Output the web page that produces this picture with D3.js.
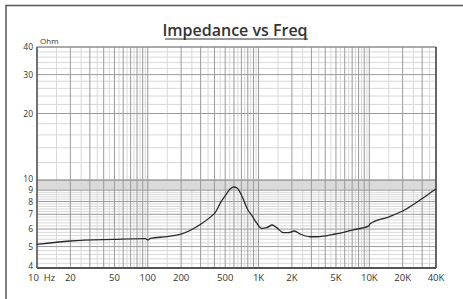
<!DOCTYPE html>
<html>
<head>
<meta charset="utf-8">
<script src="https://cdn.jsdelivr.net/npm/d3@7"></script>
<style>
  body { margin: 0; background: #fff; }
  text { font-family: "Open Sans", sans-serif; fill: #333; }
</style>
</head>
<body>
<div id="chart"></div>
<script>
var freq = [10, 20, 50, 95, 100, 106, 150, 200, 303, 374, 401, 461, 494, 560, 597, 640, 700, 805, 863, 960,
            1065, 1183, 1332, 1458, 1676, 1861, 2110, 2375, 2929, 3367, 4940, 7000, 9930, 10100, 15100, 21400, 30300, 38700, 40000]
var ohm  = [5.12, 5.30, 5.39, 5.43, 5.36, 5.44, 5.55, 5.70, 6.33, 6.85, 7.07, 8.0, 8.41, 9.15, 9.3, 9.2, 8.56, 7.3, 6.95, 6.4,
            6.05, 6.09, 6.26, 6.09, 5.78, 5.78, 5.88, 5.70, 5.54, 5.54, 5.70, 5.94, 6.2, 6.33, 6.82, 7.38, 8.27, 9.02, 9.12]

var xTickVals = [10, 20, 50, 100, 200, 500, 1000, 2000, 5000, 10000, 20000, 40000]
var xTickText = ["10  Hz", "20", "50", "100", "200", "500", "1K", "2K", "5K", "10K", "20K", "40K"]
var yTickVals = [4, 5, 6, 7, 8, 9, 10, 20, 30, 40]

var W = 463, H = 299
var margin = {top: 47, right: 27, bottom: 31, left: 37}
var width = W - margin.left - margin.right,
    height = H - margin.top - margin.bottom

var svg = d3.select("#chart").append("svg")
    .attr("width", W).attr("height", H)

// outer frame
svg.append("rect")
    .attr("x", 6).attr("y", 5.5).attr("width", 480).attr("height", 320)
    .attr("fill", "none").attr("stroke", "#555").attr("stroke-width", 1.5)

svg.append("text")
    .attr("x", 235).attr("y", 36)
    .attr("text-anchor", "middle")
    .style("font-size", "16px").style("font-weight", 600)
    .text("Impedance vs Freq")
svg.append("line")
    .attr("x1", 165).attr("x2", 308).attr("y1", 39).attr("y2", 39)
    .attr("stroke", "#333").attr("stroke-width", 1.2)

var g = svg.append("g")
    .attr("transform", "translate(" + margin.left + "," + margin.top + ")")

var x = d3.scaleLog().domain([10, 40000]).range([0, width])
var y = d3.scaleLog().domain([4, 40]).range([height, 0])

// band between 9 and 10 ohm
g.append("rect")
    .attr("x", 0).attr("width", width)
    .attr("y", y(10)).attr("height", y(9) - y(10))
    .attr("fill", "#ddd")

// horizontal grid
var hMinor = [], hMajor = []
for (var v = 4; v < 10; v += 0.2) {
  var r = Math.round(v * 10) / 10
  if (Math.abs(r - Math.round(r)) < 0.01) hMajor.push(r); else hMinor.push(r)
}
for (var v = 10; v <= 40; v += 2) {
  if (v % 10 == 0) hMajor.push(v); else hMinor.push(v)
}
// vertical grid
var vMinor = [], vMajor = []
for (var dec = 10; dec <= 10000; dec *= 10) {
  for (var k = 1; k < 10; k++) {
    if (dec * k <= 40000) vMajor.push(dec * k)
    if (dec * (k + 0.5) < 40000) vMinor.push(dec * (k + 0.5))
  }
}

g.selectAll(".hmin").data(hMinor).enter().append("line")
    .attr("x1", 0).attr("x2", width)
    .attr("y1", function(d) { return y(d) }).attr("y2", function(d) { return y(d) })
    .attr("stroke", "#d8d8d8").attr("stroke-width", 1)
g.selectAll(".vmin").data(vMinor).enter().append("line")
    .attr("y1", 0).attr("y2", height)
    .attr("x1", function(d) { return x(d) }).attr("x2", function(d) { return x(d) })
    .attr("stroke", "#d8d8d8").attr("stroke-width", 1)
g.selectAll(".hmaj").data(hMajor).enter().append("line")
    .attr("x1", 0).attr("x2", width)
    .attr("y1", function(d) { return y(d) }).attr("y2", function(d) { return y(d) })
    .attr("stroke", "#9a9a9a").attr("stroke-width", 1)
g.selectAll(".vmaj").data(vMajor).enter().append("line")
    .attr("y1", 0).attr("y2", height)
    .attr("x1", function(d) { return x(d) }).attr("x2", function(d) { return x(d) })
    .attr("stroke", "#9a9a9a").attr("stroke-width", 1)

// plot border
g.append("line").attr("x1", 0).attr("x2", width).attr("y1", 0).attr("y2", 0)
    .attr("stroke", "#888").attr("stroke-width", 1.2)
g.append("line").attr("x1", width).attr("x2", width).attr("y1", 0).attr("y2", height)
    .attr("stroke", "#444").attr("stroke-width", 1.5)
g.append("line").attr("x1", 0).attr("x2", 0).attr("y1", 0).attr("y2", height)
    .attr("stroke", "#555").attr("stroke-width", 1.5)
g.append("line").attr("x1", 0).attr("x2", width).attr("y1", height).attr("y2", height)
    .attr("stroke", "#555").attr("stroke-width", 2)

// the curve
var line = d3.line()
    .x(function(d, i) { return x(freq[i]) })
    .y(function(d, i) { return y(ohm[i]) })
    .curve(d3.curveMonotoneX)
g.append("path")
    .datum(ohm)
    .attr("d", line)
    .attr("fill", "none").attr("stroke", "#2a2a2a").attr("stroke-width", 1.3)

// tick labels (nudge the crowded ones apart a little)
var nudge = {4: -2, 8: 1, 10: -1.5}
g.selectAll(".ylab").data(yTickVals).enter().append("text")
    .attr("x", -4).attr("y", function(d) { return y(d) + (nudge[d] || 0) })
    .attr("dy", "0.35em").attr("text-anchor", "end")
    .style("font-size", "8.5px")
    .text(function(d) { return d })
g.append("text").attr("x", 3).attr("y", -3)
    .style("font-size", "8px").text("Ohm")

g.selectAll(".xlab").data(xTickVals).enter().append("text")
    .attr("x", function(d, i) { return i == 0 ? -9 : x(d) })
    .attr("y", height + 13)
    .attr("text-anchor", function(d, i) { return i == 0 ? "start" : "middle" })
    .style("font-size", "9.5px")
    .style("white-space", "pre")
    .text(function(d, i) { return xTickText[i] })
</script>
</body>
</html>
